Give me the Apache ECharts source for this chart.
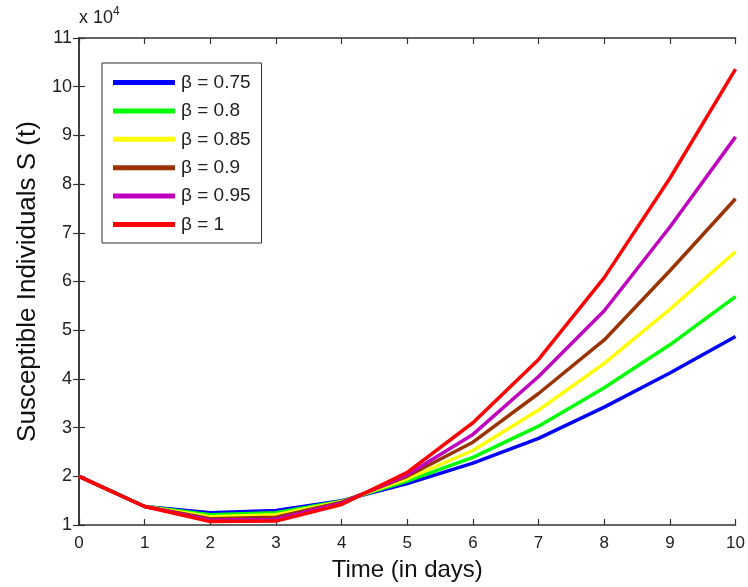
<!DOCTYPE html>
<html><head><meta charset="utf-8">
<script src="https://cdn.jsdelivr.net/npm/echarts@6/dist/echarts.min.js"></script>
<style>html,body{margin:0;padding:0;background:#fff}#c{width:748px;height:587px}</style>
</head><body><div id="c"></div>
<script>
const days = [0,1,2,3,4,5,6,7,8,9,10];
const seriesNames = ['β = 0.75','β = 0.8','β = 0.85','β = 0.9','β = 0.95','β = 1'];
const colors = ['#0000ff','#00ff00','#ffff00','#993300','#bf00bf','#ff0000'];
// values in units of 10^4
const b075 = [2.0,1.38,1.25,1.30,1.50,1.85,2.27,2.78,3.42,4.12,4.87];
const b080 = [2.0,1.38,1.21,1.25,1.49,1.90,2.39,3.03,3.82,4.70,5.69];
const b085 = [2.0,1.38,1.17,1.21,1.48,1.95,2.53,3.36,4.32,5.43,6.61];
const b090 = [2.0,1.38,1.13,1.16,1.47,2.00,2.70,3.70,4.80,6.22,7.70];
const b095 = [2.0,1.38,1.10,1.12,1.45,2.03,2.86,4.05,5.40,7.12,8.97];
const b100 = [2.0,1.38,1.07,1.08,1.42,2.08,3.10,4.40,6.08,8.12,10.36];
const allData = [b075,b080,b085,b090,b095,b100];
const yTicks = [1,2,3,4,5,6,7,8,9,10,11];

const chart = echarts.init(document.getElementById('c'));
const font = 'Liberation Sans, Arial, sans-serif';
const axisCommon = {
  axisLine:{show:true,lineStyle:{color:'#333',width:1.5}},
  axisTick:{show:true,inside:true,length:6,lineStyle:{color:'#333',width:1.2}},
  splitLine:{show:false}
};
chart.setOption({
  animation:false,
  textStyle:{fontFamily:font},
  grid:{left:79,right:12,top:38,bottom:61,containLabel:false},
  graphic:[{type:'text',left:79,top:6,style:{text:'{a|x 10}{b|4}',rich:{a:{fontSize:18,fontFamily:font,fill:'#222'},b:{fontSize:12,fontFamily:font,fill:'#222',verticalAlign:'top',padding:[0,0,12,0]}}}}],
  legend:{
    orient:'vertical',left:102,top:63,
    data:seriesNames,
    icon:'rect',itemWidth:62,itemHeight:5,itemGap:9.4,
    borderColor:'#333',borderWidth:1,padding:[10,11,9,11],
    backgroundColor:'#fff',
    textStyle:{fontSize:19,color:'#222',fontFamily:font,padding:[0,0,0,1]}
  },
  xAxis:[
    Object.assign({type:'value',min:0,max:10,interval:1,position:'bottom',
      name:'Time (in days)',nameLocation:'middle',nameGap:33,
      nameTextStyle:{fontSize:24,color:'#111',fontFamily:font},
      axisLabel:{fontSize:17,color:'#222',margin:10,fontFamily:font}},axisCommon),
    Object.assign({type:'value',min:0,max:10,interval:1,position:'top',axisLabel:{show:false}},axisCommon)
  ],
  yAxis:[
    Object.assign({type:'value',min:1,max:11,interval:1,position:'left',
      name:'Susceptible Individuals S (t)',nameLocation:'middle',nameGap:38,
      nameTextStyle:{fontSize:26,color:'#111',fontFamily:font},
      axisLabel:{fontSize:18,color:'#222',margin:7,fontFamily:font,formatter:v=>yTicks.includes(v)?String(v):''}},axisCommon),
    Object.assign({type:'value',min:1,max:11,interval:1,position:'right',axisLabel:{show:false}},axisCommon)
  ],
  series: seriesNames.map((n,i)=>({
    name:n,type:'line',data:days.map((d,j)=>[d,allData[i][j]]),
    showSymbol:false,symbol:'none',color:colors[i],
    lineStyle:{width:3.5,color:colors[i]},z:2+i
  }))
});
</script></body></html>
